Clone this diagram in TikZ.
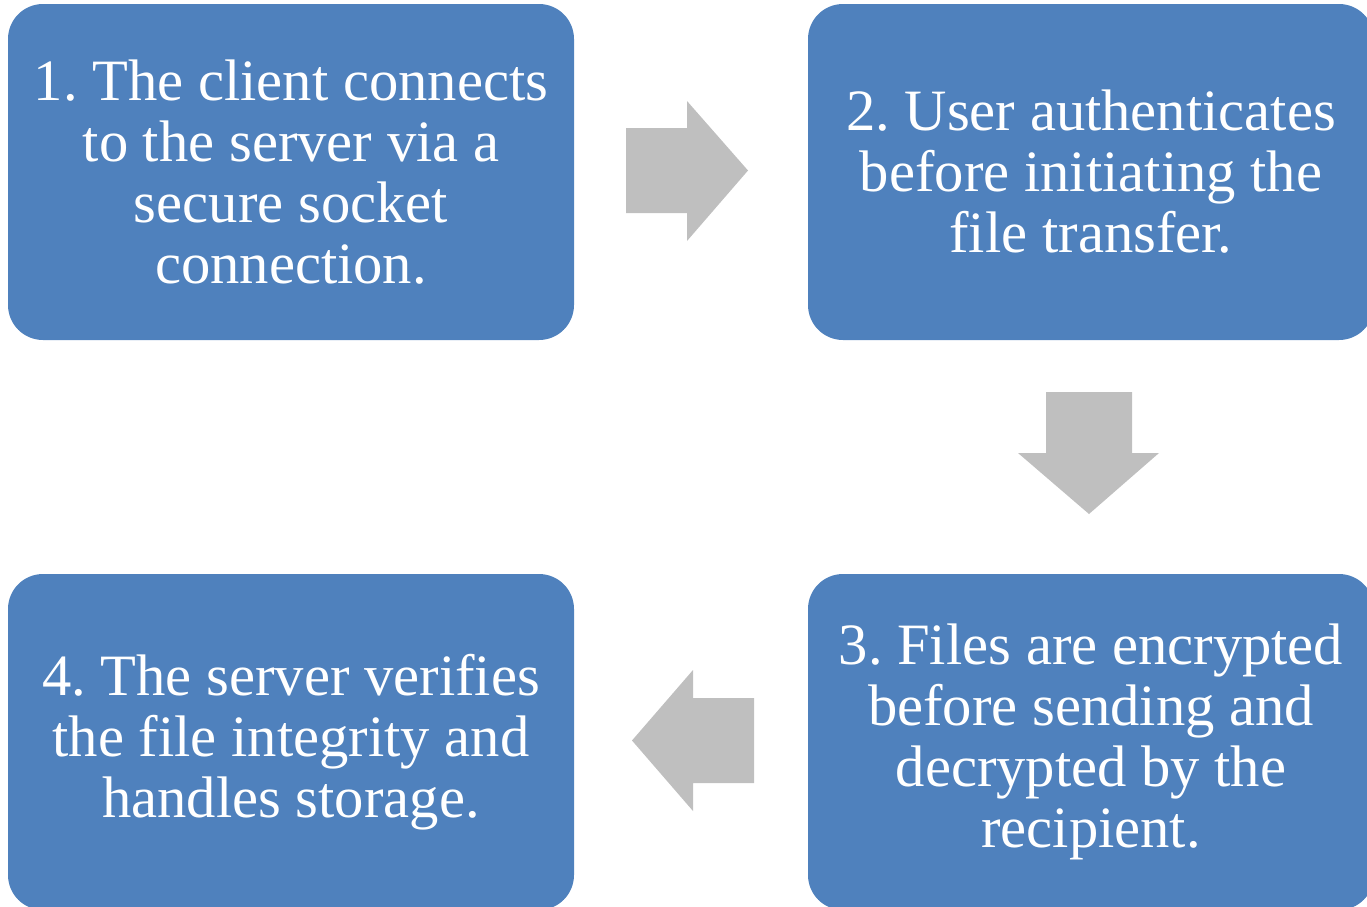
\documentclass[tikz,border=0pt]{standalone}
\usepackage{fontspec}
\setmainfont{Liberation Serif}
\definecolor{boxblue}{HTML}{4F81BD}
\definecolor{arrowgray}{HTML}{BFBFBF}
\frenchspacing
\begin{document}
\begin{tikzpicture}[x=0.5pt,y=-0.5pt,
  step box/.style={rectangle,rounded corners=17.5pt,fill=boxblue,text=white,align=center,
    minimum width=283pt,minimum height=168pt,inner sep=0pt,font=\fontsize{29.3}{30.5}\selectfont},
  block arrow/.style={fill=arrowgray,draw=none}]
  \useasboundingbox (0,0) rectangle (1367,906);
  \clip (0,0) rectangle (1367,906);
  \node[step box] (1) at (291,172) {1. The client connects\\to the server via a\\secure socket\\connection.};
  \node[step box] (2) at (1091,172) {2. User authenticates\\before initiating the\\file transfer.};
  \node[step box] (3) at (1091,742) {3. Files are encrypted\\before sending and\\decrypted by the\\recipient.};
  \node[step box] (4) at (291,742) {4. The server verifies\\the file integrity and\\handles storage.};
  \fill[block arrow] (626,128) -- (687,128) -- (687,101) -- (748,170.5) -- (687,241) -- (687,213) -- (626,213) -- cycle;
  \fill[block arrow] (1046,392) -- (1132,392) -- (1132,453) -- (1159,453) -- (1089,514) -- (1018,453) -- (1046,453) -- cycle;
  \fill[block arrow] (754,698) -- (693,698) -- (693,670) -- (632,740.5) -- (693,811) -- (693,783) -- (754,783) -- cycle;
\end{tikzpicture}
\end{document}
